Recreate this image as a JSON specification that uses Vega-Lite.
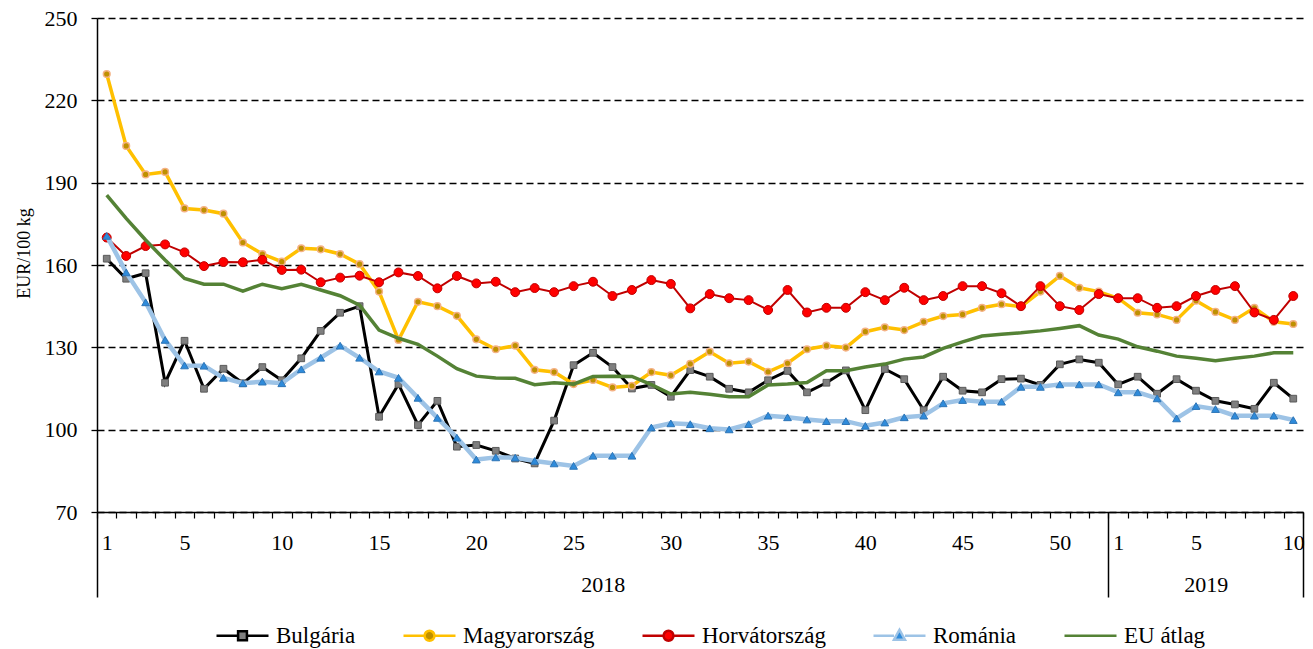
{
  "$schema": "https://vega.github.io/schema/vega-lite/v6.json",
  "autosize": {"type": "none"},
  "padding": {"left": 97, "top": 18, "right": 10, "bottom": 137},
  "width": 1206,
  "height": 494,
  "background": "white",
  "config": {
    "font": "Liberation Serif",
    "view": {"stroke": null},
    "axis": {"labelFont": "Liberation Serif", "titleFont": "Liberation Serif", "labelColor": "#000", "titleColor": "#000", "domainColor": "#000", "tickColor": "#000"}
  },
  "data": {
    "values": [
      {"i":1,"Bulgária":162.3,"Magyarország":229.6,"Horvátország":170,"Románia":170.6,"EU átlag":185.5},
      {"i":2,"Bulgária":155,"Magyarország":203.4,"Horvátország":163.3,"Románia":157.3,"EU átlag":177},
      {"i":3,"Bulgária":157,"Magyarország":193,"Horvátország":166.9,"Románia":146.4,"EU átlag":169.1},
      {"i":4,"Bulgária":117.1,"Magyarország":193.9,"Horvátország":167.5,"Románia":132.7,"EU átlag":161.8},
      {"i":5,"Bulgária":132.4,"Magyarország":180.6,"Horvátország":164.6,"Románia":123.4,"EU átlag":155.1},
      {"i":6,"Bulgária":114.9,"Magyarország":180,"Horvátország":159.6,"Románia":123.3,"EU átlag":153},
      {"i":7,"Bulgária":122.2,"Magyarország":178.7,"Horvátország":161.1,"Románia":118.9,"EU átlag":153},
      {"i":8,"Bulgária":116.9,"Magyarország":168.2,"Horvátország":161,"Románia":116.9,"EU átlag":150.5},
      {"i":9,"Bulgária":122.8,"Magyarország":164,"Horvátország":161.9,"Románia":117.5,"EU átlag":153},
      {"i":10,"Bulgária":118,"Magyarország":161.2,"Horvátország":158.2,"Románia":116.9,"EU átlag":151.4},
      {"i":11,"Bulgária":126,"Magyarország":166.1,"Horvátország":158.3,"Románia":122,"EU átlag":153},
      {"i":12,"Bulgária":136,"Magyarország":165.7,"Horvátország":153.7,"Románia":126.2,"EU átlag":150.9},
      {"i":13,"Bulgária":142.6,"Magyarország":164,"Horvátország":155.4,"Románia":130.6,"EU átlag":148.8},
      {"i":14,"Bulgária":145,"Magyarország":160.3,"Horvátország":156.1,"Románia":126.2,"EU átlag":145.4},
      {"i":15,"Bulgária":104.7,"Magyarország":150.3,"Horvátország":153.7,"Románia":121.2,"EU átlag":136.3},
      {"i":16,"Bulgária":116.6,"Magyarország":132.7,"Horvátország":157.3,"Románia":118.9,"EU átlag":133.3},
      {"i":17,"Bulgária":101.7,"Magyarország":146.6,"Horvátország":156,"Románia":111.6,"EU átlag":131.1},
      {"i":18,"Bulgária":110.5,"Magyarország":145,"Horvátország":151.5,"Románia":104.3,"EU átlag":126.8},
      {"i":19,"Bulgária":93.8,"Magyarország":141.5,"Horvátország":156,"Románia":97.1,"EU átlag":122.2},
      {"i":20,"Bulgária":94.4,"Magyarország":132.9,"Horvátország":153.3,"Románia":89.1,"EU átlag":119.5},
      {"i":21,"Bulgária":92.3,"Magyarország":129.3,"Horvátország":153.9,"Románia":89.9,"EU átlag":118.8},
      {"i":22,"Bulgária":89.5,"Magyarország":130.6,"Horvátország":150.1,"Románia":89.8,"EU átlag":118.7},
      {"i":23,"Bulgária":87.7,"Magyarország":121.8,"Horvátország":151.6,"Románia":88.6,"EU átlag":116.4},
      {"i":24,"Bulgária":103.3,"Magyarország":121,"Horvátország":150.1,"Románia":87.7,"EU átlag":117.1},
      {"i":25,"Bulgária":123.5,"Magyarország":116.6,"Horvátország":152.3,"Románia":86.8,"EU átlag":116.6},
      {"i":26,"Bulgária":128,"Magyarország":118.1,"Horvátország":153.9,"Románia":90.5,"EU átlag":119.4},
      {"i":27,"Bulgária":122.8,"Magyarország":115.4,"Horvátország":148.7,"Románia":90.5,"EU átlag":119.5},
      {"i":28,"Bulgária":115,"Magyarország":116,"Horvátország":150.9,"Románia":90.5,"EU átlag":119.4},
      {"i":29,"Bulgária":116.3,"Magyarország":121,"Horvátország":154.5,"Románia":100.8,"EU átlag":116.4},
      {"i":30,"Bulgária":112,"Magyarország":119.8,"Horvátország":153.1,"Románia":102.3,"EU átlag":113},
      {"i":31,"Bulgária":121.7,"Magyarország":124,"Horvátország":144.2,"Románia":102,"EU átlag":113.6},
      {"i":32,"Bulgária":119.3,"Magyarország":128.4,"Horvátország":149.4,"Románia":100.5,"EU átlag":112.9},
      {"i":33,"Bulgária":114.9,"Magyarország":124.2,"Horvátország":147.9,"Románia":100.1,"EU átlag":112},
      {"i":34,"Bulgária":113.6,"Magyarország":124.8,"Horvátország":147.2,"Románia":102,"EU átlag":112},
      {"i":35,"Bulgária":118,"Magyarország":121.1,"Horvátország":143.6,"Románia":105.1,"EU átlag":116.3},
      {"i":36,"Bulgária":121.4,"Magyarország":124.2,"Horvátország":150.9,"Románia":104.5,"EU átlag":116.6},
      {"i":37,"Bulgária":113.6,"Magyarország":129.3,"Horvátország":142.7,"Románia":103.7,"EU átlag":117.2},
      {"i":38,"Bulgária":117.1,"Magyarország":130.6,"Horvátország":144.4,"Románia":103.1,"EU átlag":121.5},
      {"i":39,"Bulgária":121.6,"Magyarország":129.9,"Horvátország":144.4,"Románia":103.1,"EU átlag":121.5},
      {"i":40,"Bulgária":107.1,"Magyarország":135.7,"Horvátország":150.1,"Románia":101.4,"EU átlag":122.8},
      {"i":41,"Bulgária":122.1,"Magyarország":137.3,"Horvátország":147.2,"Románia":102.6,"EU átlag":123.9},
      {"i":42,"Bulgária":118.4,"Magyarország":136.3,"Horvátország":151.7,"Románia":104.5,"EU átlag":125.7},
      {"i":43,"Bulgária":107.1,"Magyarország":139.3,"Horvátország":147.2,"Románia":105.1,"EU átlag":126.5},
      {"i":44,"Bulgária":119.3,"Magyarország":141.4,"Horvátország":148.7,"Románia":109.6,"EU átlag":129.6},
      {"i":45,"Bulgária":114.2,"Magyarország":142,"Horvátország":152.3,"Románia":110.8,"EU átlag":132},
      {"i":46,"Bulgária":113.6,"Magyarország":144.4,"Horvátország":152.3,"Románia":110.2,"EU átlag":134.1},
      {"i":47,"Bulgária":118.4,"Magyarország":145.7,"Horvátország":149.7,"Románia":110.2,"EU átlag":134.8},
      {"i":48,"Bulgária":118.6,"Magyarország":144.8,"Horvátország":145,"Románia":115.6,"EU átlag":135.3},
      {"i":49,"Bulgária":116.3,"Magyarország":150.3,"Horvátország":152.3,"Románia":115.6,"EU átlag":136},
      {"i":50,"Bulgária":123.8,"Magyarország":156,"Horvátország":145,"Románia":116.5,"EU átlag":136.9},
      {"i":51,"Bulgária":125.6,"Magyarország":151.7,"Horvátország":143.6,"Románia":116.5,"EU átlag":137.9},
      {"i":52,"Bulgária":124.4,"Magyarország":150.3,"Horvátország":149.4,"Románia":116.5,"EU átlag":134.5},
      {"i":53,"Bulgária":116.5,"Magyarország":147.9,"Horvátország":147.9,"Románia":113.6,"EU átlag":133},
      {"i":54,"Bulgária":119.3,"Magyarország":142.6,"Horvátország":147.9,"Románia":113.6,"EU átlag":130.2},
      {"i":55,"Bulgária":113.1,"Magyarország":142,"Horvátország":144.4,"Románia":111.4,"EU átlag":128.6},
      {"i":56,"Bulgária":118.4,"Magyarország":140,"Horvátország":145,"Románia":104.1,"EU átlag":126.8},
      {"i":57,"Bulgária":114.2,"Magyarország":147,"Horvátország":148.7,"Románia":108.6,"EU átlag":126},
      {"i":58,"Bulgária":110.5,"Magyarország":142.9,"Horvátország":150.9,"Románia":107.5,"EU átlag":125.1},
      {"i":59,"Bulgária":109.2,"Magyarország":140,"Horvátország":152.3,"Románia":105.1,"EU átlag":126},
      {"i":60,"Bulgária":107.6,"Magyarország":144.4,"Horvátország":142.7,"Románia":105.1,"EU átlag":126.8},
      {"i":61,"Bulgária":117.1,"Magyarország":139.3,"Horvátország":140,"Románia":105.1,"EU átlag":128},
      {"i":62,"Bulgária":111.3,"Magyarország":138.5,"Horvátország":148.7,"Románia":103.5,"EU átlag":128}
    ]
  },
  "resolve": {"axis": {"x": "independent", "y": "independent"}},
  "layer": [
    {
      "mark": {"type": "line", "stroke": "#000000", "strokeWidth": 3},
      "encoding": {
        "x": {"field": "i", "type": "quantitative", "scale": {"domain": [0.5, 62.5], "nice": false, "zero": false},
          "axis": {"orient": "bottom", "values": [1,5,10,15,20,25,30,35,40,45,50,53,57,62], "labelExpr": "datum.value > 52 ? datum.value - 52 : datum.value", "ticks": false, "tickSize": 0, "domain": false, "grid": false, "labelPadding": 20, "labelFontSize": 22, "labelAngle": 0, "labelFlush": false, "labelOverlap": false, "title": null}},
        "y": {"field": "Bulgária", "type": "quantitative", "scale": {"domain": [70, 250], "nice": false, "zero": false},
          "axis": {"orient": "left", "values": [70,100,130,160,190,220,250], "grid": true, "gridColor": "#000", "gridDash": [7,4], "gridWidth": 1.3, "domain": true, "domainWidth": 1.5, "ticks": true, "tickSize": 6, "tickWidth": 1.3, "labels": true, "labelFontSize": 22, "labelPadding": 14, "title": "EUR/100 kg", "titleFontSize": 18, "titleFontWeight": "normal", "titlePadding": 11, "titleY": 235}}
      }
    },
    {
      "mark": {"type": "point", "shape": "square", "filled": true, "fill": "#7F7F7F", "stroke": "#5A5A5A", "strokeWidth": 1, "size": 45, "opacity": 1},
      "encoding": {
        "x": {"field": "i", "type": "quantitative", "axis": null},
        "y": {"field": "Bulgária", "type": "quantitative", "axis": null}
      }
    },
    {
      "mark": {"type": "line", "stroke": "#FFC000", "strokeWidth": 3.5},
      "encoding": {
        "x": {"field": "i", "type": "quantitative",
          "axis": {"orient": "bottom", "values": [0.5,1.5,2.5,3.5,4.5,5.5,6.5,7.5,8.5,9.5,10.5,11.5,12.5,13.5,14.5,15.5,16.5,17.5,18.5,19.5,20.5,21.5,22.5,23.5,24.5,25.5,26.5,27.5,28.5,29.5,30.5,31.5,32.5,33.5,34.5,35.5,36.5,37.5,38.5,39.5,40.5,41.5,42.5,43.5,44.5,45.5,46.5,47.5,48.5,49.5,50.5,51.5,52.5,53.5,54.5,55.5,56.5,57.5,58.5,59.5,60.5,61.5,62.5], "labels": false, "tickSize": 6, "tickWidth": 1.2, "domain": true, "domainWidth": 1.5, "grid": false, "title": null}},
        "y": {"field": "Magyarország", "type": "quantitative", "axis": null}
      }
    },
    {
      "mark": {"type": "point", "shape": "circle", "filled": true, "fill": "#BF9000", "stroke": "#F4B183", "strokeWidth": 1.5, "size": 45, "opacity": 1},
      "encoding": {
        "x": {"field": "i", "type": "quantitative", "axis": null},
        "y": {"field": "Magyarország", "type": "quantitative", "axis": null}
      }
    },
    {
      "mark": {"type": "line", "stroke": "#C00000", "strokeWidth": 2},
      "encoding": {
        "x": {"field": "i", "type": "quantitative",
          "axis": {"orient": "bottom", "values": [0.5, 52.5, 62.5], "labels": false, "tickSize": 85, "tickWidth": 1.5, "domain": false, "grid": false, "title": null}},
        "y": {"field": "Horvátország", "type": "quantitative", "axis": null}
      }
    },
    {
      "mark": {"type": "point", "shape": "circle", "filled": true, "fill": "#FF0000", "stroke": "#C00000", "strokeWidth": 1, "size": 80, "opacity": 1},
      "encoding": {
        "x": {"field": "i", "type": "quantitative", "axis": null},
        "y": {"field": "Horvátország", "type": "quantitative", "axis": null}
      }
    },
    {
      "mark": {"type": "line", "stroke": "#9DC3E6", "strokeWidth": 4.5},
      "encoding": {
        "x": {"field": "i", "type": "quantitative",
          "axis": {"orient": "bottom", "values": [26.5, 57.5], "labelExpr": "datum.value < 52 ? '2018' : '2019'", "ticks": false, "tickSize": 0, "domain": false, "grid": false, "labelPadding": 62, "labelFontSize": 22, "labelAngle": 0, "labelFlush": false, "labelOverlap": false, "title": null}},
        "y": {"field": "Románia", "type": "quantitative", "axis": null}
      }
    },
    {
      "mark": {"type": "point", "shape": "triangle-up", "filled": true, "fill": "#2E8BDB", "stroke": "#2E75B6", "strokeWidth": 1, "size": 60, "opacity": 1},
      "encoding": {
        "x": {"field": "i", "type": "quantitative", "axis": null},
        "y": {"field": "Románia", "type": "quantitative", "axis": null}
      }
    },
    {
      "mark": {"type": "line", "stroke": "#548235", "strokeWidth": 3.5},
      "encoding": {
        "x": {"field": "i", "type": "quantitative", "axis": null},
        "y": {"field": "EU átlag", "type": "quantitative", "axis": null}
      }
    },
    {
      "transform": [
        {"fold": ["Bulgária", "Magyarország", "Horvátország", "Románia", "EU átlag"], "as": ["sorozat", "ertek"]},
        {"filter": "false"}
      ],
      "mark": {"type": "point", "filled": true, "strokeWidth": 2.5, "size": 2704, "opacity": 1},
      "encoding": {
        "stroke": {"field": "sorozat", "type": "nominal",
          "scale": {"domain": ["Bulgária", "Magyarország", "Horvátország", "Románia", "EU átlag"], "range": ["#000000", "#FFC000", "#C00000", "#9DC3E6", "#548235"]},
          "legend": {"title": null, "orient": "none", "legendX": 118, "legendY": 590, "direction": "horizontal", "columns": 5, "columnPadding": 42, "padding": 0, "symbolSize": 2704, "symbolStrokeWidth": 2.5, "symbolOpacity": 1, "labelFontSize": 23, "labelFont": "Liberation Serif", "labelColor": "#000", "labelOffset": 6, "labelLimit": 0}},
        "fill": {"field": "sorozat", "type": "nominal",
          "scale": {"domain": ["Bulgária", "Magyarország", "Horvátország", "Románia", "EU átlag"], "range": ["#7F7F7F", "#BF9000", "#FF0000", "#2E8BDB", "#548235"]},
          "legend": {"title": null, "orient": "none", "legendX": 118, "legendY": 590, "direction": "horizontal", "columns": 5, "columnPadding": 42, "padding": 0, "symbolSize": 2704, "symbolStrokeWidth": 2.5, "symbolOpacity": 1, "labelFontSize": 23, "labelFont": "Liberation Serif", "labelColor": "#000", "labelOffset": 6, "labelLimit": 0}},
        "shape": {"field": "sorozat", "type": "nominal",
          "scale": {"domain": ["Bulgária", "Magyarország", "Horvátország", "Románia", "EU átlag"], "range": [
            "M-1,0H-0.17M0.17,0H1M-0.17,-0.17H0.17V0.17H-0.17Z",
            "M-1,0H-0.19M0.19,0H1M-0.19,0A0.19,0.19 0 1,0 0.19,0A0.19,0.19 0 1,0 -0.19,0Z",
            "M-1,0H-0.19M0.19,0H1M-0.19,0A0.19,0.19 0 1,0 0.19,0A0.19,0.19 0 1,0 -0.19,0Z",
            "M-1,0H-0.21M0.21,0H1M-0.21,0.15L0,-0.23L0.21,0.15Z",
            "M-1,0H1"]},
          "legend": {"title": null, "orient": "none", "legendX": 118, "legendY": 590, "direction": "horizontal", "columns": 5, "columnPadding": 42, "padding": 0, "symbolSize": 2704, "symbolStrokeWidth": 2.5, "symbolOpacity": 1, "labelFontSize": 23, "labelFont": "Liberation Serif", "labelColor": "#000", "labelOffset": 6, "labelLimit": 0}}
      }
    }
  ]
}
